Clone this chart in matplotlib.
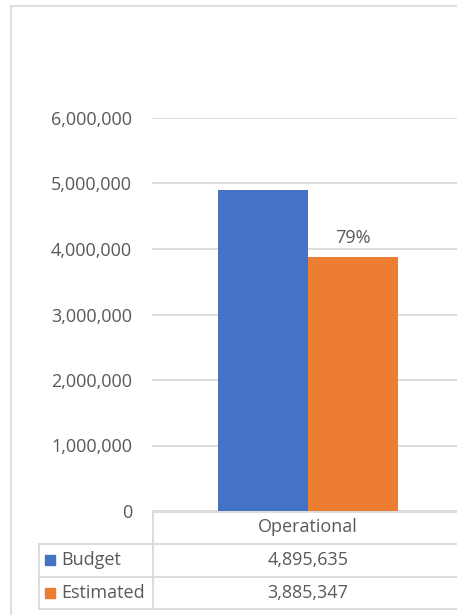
import matplotlib
matplotlib.use("Agg")
import matplotlib.pyplot as plt
from matplotlib.lines import Line2D
from matplotlib.patches import Rectangle

categories = ["Operational"]
series_names = ["Budget", "Estimated"]
budget = [4895635]
estimated = [3885347]
y_ticks = [0, 1000000, 2000000, 3000000, 4000000, 5000000, 6000000]
colors = ["#4472C4", "#ED7D31"]

W, H = 457, 615
DPI = 100
plt.rcParams['font.family'] = ['Open Sans', 'DejaVu Sans']
TXT = "#595959"
GRID = "#D9D9D9"
FS = 13

fig = plt.figure(figsize=(W / DPI, H / DPI), dpi=DPI)

def px(x0, y0, x1, y1):
    return [x0 / W, 1 - y1 / H, (x1 - x0) / W, (y1 - y0) / H]

# overlay axes in pixel coordinates for frame and table
ov = fig.add_axes([0, 0, 1, 1])
ov.set_xlim(0, W)
ov.set_ylim(H, 0)
ov.axis("off")
ov.add_line(Line2D([10.5, 10.5], [5.5, H], color=GRID, lw=1.2))
ov.add_line(Line2D([10.5, W], [5.5, 5.5], color=GRID, lw=1.2))

ax = fig.add_axes(px(152, 118, 464, 511))
ax.set_zorder(2)
ax.patch.set_alpha(0)
n = len(categories)
bw = 0.288
xs = list(range(n))
ax.bar([x - bw / 2 for x in xs], budget, width=bw, color=colors[0], zorder=3)
ax.bar([x + bw / 2 for x in xs], estimated, width=bw, color=colors[1], zorder=3)
for i in range(n):
    pct = estimated[i] / budget[i] * 100
    ax.annotate(f"{pct:.0f}%", (xs[i] + bw / 2, estimated[i]), xytext=(0, 7),
                textcoords="offset points", ha="center", va="bottom",
                fontsize=FS, color=TXT)
ax.set_xlim(-0.5, n - 0.5)
ax.set_ylim(0, 6000000)
ax.set_yticks(y_ticks)
ax.set_yticklabels([f"{v:,}" for v in y_ticks], fontsize=FS, color=TXT)
ax.tick_params(axis="y", length=0, pad=14.4)
ax.set_xticks([])
ax.yaxis.grid(True, color=GRID, lw=1.3)
ax.set_axisbelow(True)
for s in ax.spines.values():
    s.set_visible(False)

# data table
x_left, x_mid = 38.5, 152.5
rows_y = [511.5, 543.5, 576.5, 608.5]
ov.add_line(Line2D([x_mid, W], [rows_y[0], rows_y[0]], color=GRID, lw=1.3))
for yy in rows_y[1:]:
    ov.add_line(Line2D([x_left, W], [yy, yy], color=GRID, lw=1.3))
ov.add_line(Line2D([x_mid, x_mid], [rows_y[0], rows_y[-1]], color=GRID, lw=1.3))
ov.add_line(Line2D([x_left, x_left], [rows_y[1], rows_y[-1]], color=GRID, lw=1.3))

def cat_center(i):
    return 152 + (i + 0.5) * (464 - 152) / n

for i, c in enumerate(categories):
    ov.text(cat_center(i), (rows_y[0] + rows_y[1]) / 2, c, ha="center", va="center",
            fontsize=FS, color=TXT)
table_vals = [budget, estimated]
for r, (name, vals) in enumerate(zip(series_names, table_vals)):
    yc = (rows_y[r + 1] + rows_y[r + 2]) / 2
    ov.add_patch(Rectangle((45, yc - 5), 10, 10, color=colors[r]))
    ov.text(61, yc, name, ha="left", va="center", fontsize=FS, color=TXT)
    for i, v in enumerate(vals):
        ov.text(cat_center(i), yc, f"{v:,}", ha="center", va="center",
                fontsize=FS, color=TXT)

fig.savefig("out.png", dpi=DPI)
